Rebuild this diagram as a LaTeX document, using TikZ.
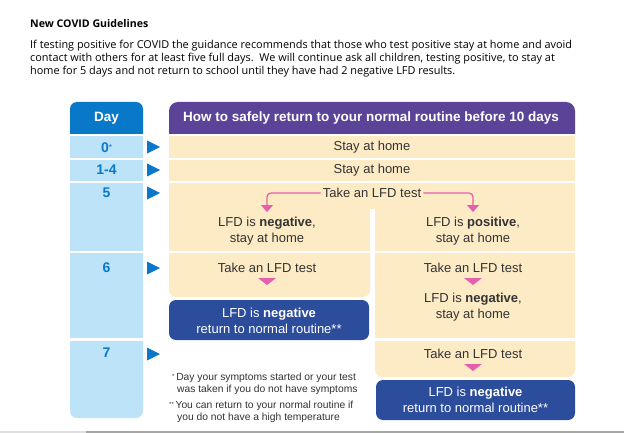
\documentclass[tikz,border=0pt]{standalone}
\usepackage{fontspec}
\setmainfont{Liberation Sans}
\newfontfamily\introfont{Open Sans}
\usetikzlibrary{arrows.meta}
\definecolor{dayblue}{HTML}{0A78C8}
\definecolor{lightblue}{HTML}{BDE3F8}
\definecolor{hpurple}{HTML}{5B4497}
\definecolor{cream}{HTML}{FDEBC6}
\definecolor{navy}{HTML}{2C4C9C}
\definecolor{pinkc}{HTML}{E460AC}
\definecolor{bodytext}{HTML}{333333}
\begin{document}
\begin{tikzpicture}[x=1pt,y=-1pt,
  txt/.style={inner sep=0pt,text=bodytext,font=\fontsize{13}{16}\selectfont,align=center},
  wtxt/.style={inner sep=0pt,text=white,font=\fontsize{13}{16}\selectfont,align=center},
  daytxt/.style={inner sep=0pt,text=dayblue,font=\fontsize{14}{16}\selectfont\bfseries},
  intro/.style={inner sep=0pt,anchor=base west,text=black,font=\introfont\fontsize{10.9}{13}\selectfont},
  foot/.style={inner sep=0pt,anchor=base west,text=bodytext,font=\fontsize{10.3}{12}\selectfont},
  pinkarr/.style={draw=pinkc,line width=1.3pt,rounded corners=4pt,-{Triangle[width=12pt,length=7pt]}},
  bluetri/.style={fill=dayblue},
  pinktri/.style={fill=pinkc}
]
\useasboundingbox (0,0) rectangle (624,433);
\fill[white] (0,0) rectangle (624,433);

% intro text
\node[intro,font=\introfont\fontsize{10.6}{13}\selectfont\bfseries] (title) at (30,28) {New COVID Guidelines};
\node[intro] (l1) at (30,49) {If testing positive for COVID the guidance recommends that those who test positive stay at home and avoid};
\node[intro] (l2) at (30,62) {contact with others for at least five full days.\ \ We will continue ask all children, testing positive, to stay at};
\node[intro] (l3) at (30,75) {home for 5 days and not return to school until they have had 2 negative LFD results.};

% day column
\fill[dayblue] (70,134) {[rounded corners=7pt] -- (70,102) -- (143,102)} -- (143,134) -- cycle;
\fill[lightblue] (70,136) rectangle (143,158);
\fill[lightblue] (70,160) rectangle (143,181);
\fill[lightblue] (70,183) rectangle (143,251);
\fill[lightblue] (70,253) rectangle (143,338);
\fill[lightblue] (70,341) {[rounded corners=7pt] -- (70,418) -- (143,418)} -- (143,341) -- cycle;

\node[inner sep=0pt,text=white,font=\fontsize{13.5}{16}\selectfont\bfseries] (dayh) at (106.5,118) {Day};
\node[daytxt] (d0) at (106.5,147.5) {0\raisebox{3pt}{\fontsize{7}{7}\selectfont*}};
\node[daytxt] (d1) at (106.5,170) {1-4};
\node[daytxt] (d5) at (106.5,192.5) {5};
\node[daytxt] (d6) at (106.5,268) {6};
\node[daytxt] (d7) at (106.5,353) {7};

% blue pointers
\foreach \yy/\nm in {147/a0,170/a1,193/a5,268/a6,354/a7}{
  \fill[bluetri] (147,\yy-6.5) -- (160,\yy) -- (147,\yy+6.5) -- cycle;
}

% purple header
\fill[hpurple] (169,134) {[rounded corners=9pt] -- (169,102) -- (575,102)} -- (575,134) -- cycle;
\node[inner sep=0pt,text=white,font=\fontsize{13.5}{16}\selectfont\bfseries] (head) at (371,118) {How to safely return to your normal routine before 10 days};

% cream rows
\fill[cream] (169,136) rectangle (575,158);
\fill[cream] (169,160) rectangle (575,181);
\fill[cream] (169,183) rectangle (575,251);
\fill[white] (370,209) rectangle (375,252);
\fill[cream] (169,253) {[rounded corners=7pt] -- (169,297) -- (370,297)} -- (370,253) -- cycle;
\fill[cream] (375,253) rectangle (575,338);
\fill[cream] (375,341) {[rounded corners=7pt] -- (375,377) -- (575,377)} -- (575,341) -- cycle;

% navy boxes
\fill[navy,rounded corners=7pt] (169,300) rectangle (369,340);
\fill[navy,rounded corners=7pt] (376,380) rectangle (575,420);

% texts
\node[txt] (s0) at (372,147) {Stay at home};
\node[txt] (s1) at (372,170) {Stay at home};
\node[txt] (t5) at (372,193) {Take an LFD test};
\node[txt] (neg5) at (267,231.5) {LFD is \textbf{negative},\\stay at home};
\node[txt] (pos5) at (473,231.5) {LFD is \textbf{positive},\\stay at home};
\coordinate (n5) at (267,212);
\coordinate (p5) at (473,212);
\draw[pinkarr] (t5.west) ++(-2,0) -| (n5);
\draw[pinkarr] (t5.east) ++(2,0) -| (p5);

\node[txt] (t6l) at (267,268) {Take an LFD test};
\node[txt] (t6r) at (473,268) {Take an LFD test};
\node[txt] (neg6r) at (473,307.5) {LFD is \textbf{negative},\\stay at home};
\node[txt] (t7r) at (473,354) {Take an LFD test};

\fill[pinktri] (258,278) -- (276,278) -- (267,285) -- cycle;
\fill[pinktri] (464,278) -- (482,278) -- (473,285) -- cycle;
\fill[pinktri] (464,364) -- (482,364) -- (473,371) -- cycle;

\node[wtxt] (ok6) at (269,320.5) {LFD is \textbf{negative}\\return to normal routine**};
\node[wtxt] (ok7) at (475.5,400) {LFD is \textbf{negative}\\return to normal routine**};

% footnotes
\node[foot] (f1) at (172,380) {\raisebox{2pt}{\fontsize{6}{6}\selectfont*}\,Day your symptoms started or your test};
\node[foot] (f2) at (177,392) {was taken if you do not have symptoms};
\node[foot] (f3) at (169,408) {\raisebox{2pt}{\fontsize{6}{6}\selectfont**}\,You can return to your normal routine if};
\node[foot] (f4) at (177,420) {you do not have a high temperature};

% screenshot edge
\draw[gray!25,line width=1.5pt] (0,432) -- (86,432);
\draw[gray!70,line width=1.5pt] (86,432) -- (624,432);
\end{tikzpicture}
\end{document}
